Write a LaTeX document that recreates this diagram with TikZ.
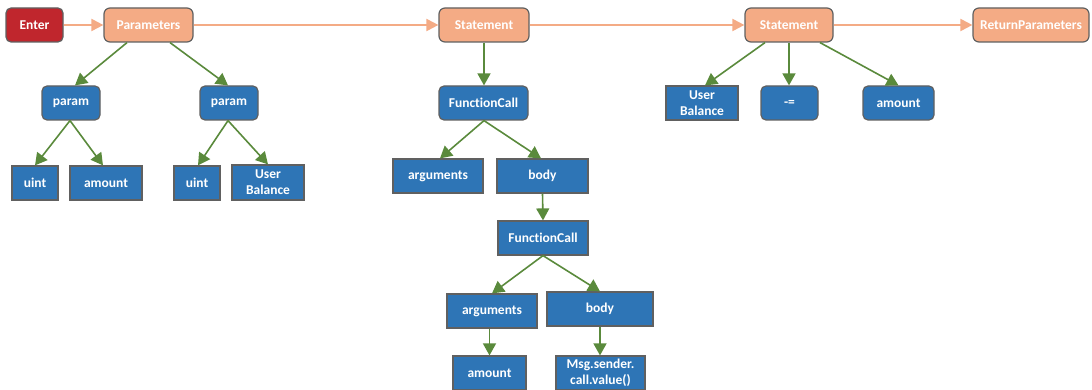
\documentclass[tikz,border=0pt]{standalone}
\usepackage{fontspec}
\setmainfont[Ligatures=NoCommon]{Carlito}
\usetikzlibrary{arrows.meta}
\definecolor{salmon}{HTML}{F4AB85}
\definecolor{nblue}{HTML}{2E75B6}
\definecolor{nred}{HTML}{C0262D}
\definecolor{ngreen}{HTML}{5A8A3C}
\definecolor{nborder}{HTML}{606060}
\begin{document}
\begin{tikzpicture}[x=1pt,y=-1pt,
  base/.style={draw=nborder,line width=1.2pt,text=white,font=\fontsize{13.5}{16}\selectfont\bfseries,inner sep=0pt,align=center,minimum height=34pt},
  rbox/.style={base,rounded corners=5pt},
  sbox/.style={base,fill=salmon,rounded corners=6pt},
  bbox/.style={base,fill=nblue,rounded corners=5pt},
  qbox/.style={base,fill=nblue},
  garrow/.style={draw=ngreen,line width=1.6pt,-{Triangle[length=12pt,width=13pt]}},
  sarrow/.style={draw=salmon,line width=2pt,-{Triangle[length=12pt,width=12pt]}}]
\useasboundingbox (0,0) rectangle (1092,390);
% top row
\node[rbox,fill=nred,minimum width=57pt] (enter) at (34.5,25) {Enter};
\node[sbox,minimum width=89pt] (par) at (148.5,25) {Parameters};
\node[sbox,minimum width=90pt] (st1) at (484,25) {Statement};
\node[sbox,minimum width=88pt] (st2) at (789,25) {Statement};
\node[sbox,minimum width=116pt] (ret) at (1031,25) {ReturnParameters};
% params
\node[bbox,minimum width=58pt] (p1) at (71,103) {param};
\node[bbox,minimum width=58pt] (p2) at (229,103) {param};
\node[qbox,minimum width=46pt] (u1) at (35,183) {uint};
\node[qbox,minimum width=72pt] (a1) at (106,183) {amount};
\node[qbox,minimum width=46pt] (u2) at (197,183) {uint};
\node[qbox,minimum width=72pt,minimum height=35pt] (ub1) at (268,182.5) {User\\Balance};
% statement 1
\node[bbox,minimum width=89pt] (fc1) at (483.5,103) {FunctionCall};
\node[qbox,minimum width=90pt] (ar1) at (438,176) {arguments};
\node[qbox,minimum width=91pt] (bo1) at (542.5,176) {body};
\node[qbox,minimum width=90pt] (fc2) at (543,238) {FunctionCall};
\node[qbox,minimum width=90pt] (ar2) at (492,311) {arguments};
\node[qbox,minimum width=106pt] (bo2) at (600,309) {body};
\node[qbox,minimum width=73pt] (am2) at (489.5,373) {amount};
\node[qbox,minimum width=89pt] (msg) at (600.5,373) {Msg.sender.\\call.value()};
% statement 2
\node[qbox,minimum width=72pt] (ub2) at (702,103) {User\\Balance};
\node[bbox,minimum width=57pt] (me) at (789.5,103) {-=};
\node[bbox,minimum width=71pt] (am3) at (898.5,103) {amount};
% salmon flow
\draw[sarrow] (enter) -- (par);
\draw[sarrow] (par) -- (st1);
\draw[sarrow] (st1) -- (st2);
\draw[sarrow] (st2) -- (ret);
% green arrows
\draw[garrow] ([xshift=-21.5pt]par.south) -- ([xshift=4pt]p1.north);
\draw[garrow] ([xshift=21.5pt]par.south) -- ([xshift=-1pt]p2.north);
\draw[garrow] ([xshift=-1pt]p1.south) -- (u1.north);
\draw[garrow] ([xshift=-1pt]p1.south) -- ([xshift=-3pt]a1.north);
\draw[garrow] ([xshift=-1pt]p2.south) -- ([xshift=1pt]u2.north);
\draw[garrow] ([xshift=-1pt]p2.south) -- (ub1.north);
\draw[garrow] (st1.south) -- (fc1.north -| st1.south);
\draw[garrow] ([xshift=0.5pt]fc1.south) -- ([xshift=2pt]ar1.north);
\draw[garrow] ([xshift=0.5pt]fc1.south) -- ([xshift=-1.5pt]bo1.north);
\draw[garrow] (bo1.south) -- (fc2.north);
\draw[garrow] (fc2.south) -- (ar2.north);
\draw[garrow] (fc2.south) -- (bo2.north);
\draw[garrow] (ar2.south -| am2.north) -- (am2.north);
\draw[garrow] (bo2.south) -- (msg.north -| bo2.south);
\draw[garrow] ([xshift=-24pt]st2.south) -- ([xshift=3pt]ub2.north);
\draw[garrow] (st2.south) -- (me.north -| st2.south);
\draw[garrow] ([xshift=31pt]st2.south) -- (am3.north);
\end{tikzpicture}
\end{document}
